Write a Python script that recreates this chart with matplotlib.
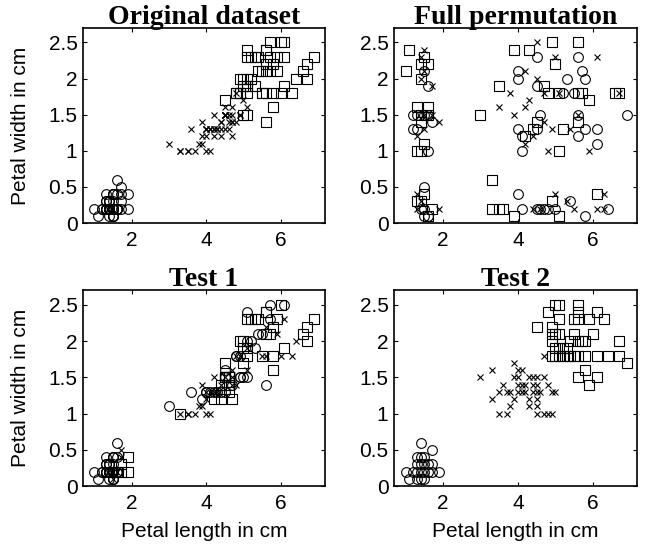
import matplotlib
matplotlib.use("Agg")
from matplotlib import pyplot as plt

# Fisher iris, petal length / width (cm), rows 1-150
petal_length = [
    1.4, 1.4, 1.3, 1.5, 1.4, 1.7, 1.4, 1.5, 1.4, 1.5,
    1.5, 1.6, 1.4, 1.1, 1.2, 1.5, 1.3, 1.4, 1.7, 1.5,
    1.7, 1.5, 1.0, 1.7, 1.9, 1.6, 1.6, 1.5, 1.4, 1.6,
    1.6, 1.5, 1.5, 1.4, 1.5, 1.2, 1.3, 1.5, 1.3, 1.5,
    1.3, 1.3, 1.3, 1.6, 1.9, 1.4, 1.6, 1.4, 1.5, 1.4,
    4.7, 4.5, 4.9, 4.0, 4.6, 4.5, 4.7, 3.3, 4.6, 3.9,
    3.5, 4.2, 4.0, 4.7, 3.6, 4.4, 4.5, 4.1, 4.5, 3.9,
    4.8, 4.0, 4.9, 4.7, 4.3, 4.4, 4.8, 5.0, 4.5, 3.5,
    3.8, 3.7, 3.9, 5.1, 4.5, 4.5, 4.7, 4.4, 4.1, 4.0,
    4.4, 4.6, 4.0, 3.3, 4.2, 4.2, 4.2, 4.3, 3.0, 4.1,
    6.0, 5.1, 5.9, 5.6, 5.8, 6.6, 4.5, 6.3, 5.8, 6.1,
    5.1, 5.3, 5.5, 5.0, 5.1, 5.3, 5.5, 6.7, 6.9, 5.0,
    5.7, 4.9, 6.7, 4.9, 5.7, 6.0, 4.8, 4.9, 5.6, 5.8,
    6.1, 6.4, 5.6, 5.1, 5.6, 6.1, 5.6, 5.5, 4.8, 5.4,
    5.6, 5.1, 5.1, 5.9, 5.7, 5.2, 5.0, 5.2, 5.4, 5.1,
]
petal_width = [
    0.2, 0.2, 0.2, 0.2, 0.2, 0.4, 0.3, 0.2, 0.2, 0.1,
    0.2, 0.2, 0.1, 0.1, 0.2, 0.4, 0.4, 0.3, 0.3, 0.3,
    0.2, 0.4, 0.2, 0.5, 0.2, 0.2, 0.4, 0.2, 0.2, 0.2,
    0.2, 0.4, 0.1, 0.2, 0.1, 0.2, 0.2, 0.1, 0.2, 0.2,
    0.3, 0.3, 0.2, 0.6, 0.4, 0.3, 0.2, 0.2, 0.2, 0.2,
    1.4, 1.5, 1.5, 1.3, 1.5, 1.3, 1.6, 1.0, 1.3, 1.4,
    1.0, 1.5, 1.0, 1.4, 1.3, 1.4, 1.5, 1.0, 1.5, 1.1,
    1.8, 1.3, 1.5, 1.2, 1.3, 1.4, 1.4, 1.7, 1.5, 1.0,
    1.1, 1.0, 1.2, 1.6, 1.5, 1.6, 1.5, 1.3, 1.3, 1.3,
    1.2, 1.4, 1.2, 1.0, 1.3, 1.2, 1.3, 1.3, 1.1, 1.3,
    2.5, 1.9, 2.1, 1.8, 2.2, 2.1, 1.7, 1.8, 1.8, 2.5,
    2.0, 1.9, 2.1, 2.0, 2.4, 2.3, 1.8, 2.2, 2.3, 1.5,
    2.3, 2.0, 2.0, 1.8, 2.1, 1.8, 1.8, 1.8, 2.1, 1.6,
    1.9, 2.0, 2.2, 1.5, 1.4, 2.3, 2.4, 1.8, 1.8, 2.1,
    2.4, 2.3, 1.9, 2.3, 2.5, 2.3, 1.9, 2.0, 2.3, 1.8,
]
# 0 = circle, 1 = cross, 2 = square
species = [0] * 50 + [1] * 50 + [2] * 50

test1_labels = [
    0, 0, 0, 0, 0, 1, 0, 0, 0, 0,
    0, 1, 0, 0, 0, 0, 0, 0, 2, 0,
    2, 0, 0, 1, 2, 2, 0, 0, 0, 0,
    0, 0, 0, 0, 0, 0, 0, 1, 0, 0,
    0, 0, 0, 0, 2, 0, 0, 0, 0, 0,
    1, 2, 0, 1, 2, 0, 1, 2, 2, 1,
    1, 1, 1, 0, 0, 2, 0, 1, 1, 1,
    0, 0, 0, 2, 0, 1, 1, 2, 2, 1,
    1, 1, 0, 1, 2, 0, 1, 0, 1, 0,
    2, 2, 1, 1, 0, 2, 1, 1, 0, 0,
    2, 1, 1, 1, 2, 2, 2, 1, 2, 0,
    0, 0, 0, 2, 0, 2, 2, 2, 2, 0,
    0, 2, 2, 0, 2, 1, 1, 1, 2, 2,
    2, 1, 1, 0, 0, 1, 2, 1, 0, 0,
    2, 2, 2, 2, 0, 2, 2, 0, 2, 2,
]

# full permutation panel, points read per marker
full_circle = [
    (1.5, 2.1), (1.6, 1.9), (1.2, 1.5), (1.3, 1.5), (1.5, 1.5), (1.6, 1.5),
    (1.7, 1.4), (1.2, 1.3), (1.3, 1.3), (1.6, 1.0), (1.5, 0.5), (1.4, 0.2),
    (1.5, 0.2), (1.5, 0.1), (1.6, 0.1),
    (4.5, 2.3), (5.6, 2.3), (4.0, 2.1), (4.0, 2.0), (5.3, 2.0), (5.7, 2.1),
    (5.8, 2.0), (4.5, 1.9), (5.2, 1.8), (5.5, 1.8), (4.6, 1.5), (5.6, 1.5),
    (6.9, 1.5), (4.0, 1.3), (4.5, 1.3), (5.8, 1.3), (6.1, 1.3), (4.1, 1.2),
    (5.6, 1.2), (6.1, 1.1), (4.1, 1.0), (4.0, 0.4), (5.4, 0.3), (4.1, 0.2),
    (4.5, 0.2), (4.6, 0.2), (4.7, 0.2), (4.8, 0.2), (5.0, 0.2), (5.8, 0.1),
    (6.4, 0.2),
]
full_cross = [
    (1.5, 2.4), (1.4, 2.3), (1.5, 2.1), (1.4, 2.0), (1.7, 1.9), (1.5, 1.5),
    (1.7, 1.5), (1.9, 1.4), (1.5, 1.3), (1.3, 1.2), (1.3, 0.4), (1.4, 0.3),
    (1.3, 0.2), (1.9, 0.2),
    (4.5, 2.5), (5.0, 2.3), (6.1, 2.3), (4.2, 2.1), (4.5, 2.0), (3.8, 1.8),
    (4.7, 1.8), (5.1, 1.8), (6.7, 1.8), (4.3, 1.7), (3.5, 1.6), (4.2, 1.6),
    (3.9, 1.5), (5.6, 1.5), (4.7, 1.4), (4.9, 1.3), (5.4, 1.3), (4.4, 1.2),
    (4.2, 1.1), (4.8, 1.0), (5.9, 1.0), (5.0, 0.4), (6.3, 0.4), (4.4, 0.2),
    (4.6, 0.2), (5.3, 0.3), (5.5, 0.2), (6.1, 0.2), (6.3, 0.2),
]
full_square = [
    (1.1, 2.4), (1.0, 2.1), (1.5, 2.3), (1.4, 2.2), (1.6, 2.2), (1.4, 2.0),
    (1.3, 1.6), (1.6, 1.6), (1.4, 1.5), (1.6, 1.5), (1.4, 1.4), (1.5, 1.1),
    (1.3, 1.0), (1.4, 1.0), (1.5, 0.4), (1.3, 0.3), (1.4, 0.3), (1.7, 0.2),
    (1.6, 0.1),
    (3.0, 1.5), (4.9, 2.5), (5.6, 2.5), (3.9, 2.4), (4.3, 2.4), (5.0, 2.2),
    (3.5, 1.9), (4.7, 1.9), (4.8, 1.8), (5.1, 1.8), (5.6, 1.8), (5.7, 1.8),
    (6.6, 1.8), (6.7, 1.8), (5.9, 1.7), (4.5, 1.4), (5.6, 1.4), (4.4, 1.3),
    (5.2, 1.3), (4.2, 1.2), (5.1, 1.0), (3.3, 0.6), (6.1, 0.4), (3.3, 0.2),
    (3.5, 0.2), (3.6, 0.2), (3.9, 0.1), (4.9, 0.3), (5.1, 0.1),
]

# test 2 panel
test2_circle = [
    (1.0, 0.2), (1.1, 0.1), (1.2, 0.2), (1.3, 0.1), (1.4, 0.1), (1.5, 0.1),
    (1.3, 0.2), (1.4, 0.2), (1.5, 0.2), (1.6, 0.2), (1.7, 0.2), (1.9, 0.2),
    (1.3, 0.3), (1.4, 0.3), (1.5, 0.3), (1.6, 0.3), (1.7, 0.3), (1.3, 0.4),
    (1.4, 0.4), (1.5, 0.4), (1.4, 0.6), (1.7, 0.5),
]
test2_cross = [
    (4.7, 1.8), (3.9, 1.7), (3.3, 1.6), (4.0, 1.6), (4.1, 1.6),
    (3.0, 1.5), (3.9, 1.5), (4.0, 1.5), (4.3, 1.5), (4.4, 1.5), (4.5, 1.5),
    (4.7, 1.5), (3.6, 1.4), (4.0, 1.4), (4.1, 1.4), (4.2, 1.4), (4.4, 1.4),
    (4.5, 1.4), (4.8, 1.4), (3.5, 1.3), (3.7, 1.3), (3.8, 1.3), (4.0, 1.3),
    (4.1, 1.3), (4.2, 1.3), (4.4, 1.3), (4.5, 1.3), (4.6, 1.3), (4.9, 1.3),
    (5.0, 1.3), (3.3, 1.2), (3.9, 1.2), (4.3, 1.2), (4.5, 1.2), (3.8, 1.1),
    (4.3, 1.1), (4.5, 1.1), (3.5, 1.0), (3.7, 1.0), (4.5, 1.0), (4.7, 1.0),
    (4.8, 1.0), (4.9, 1.0),
]
test2_square = [
    (5.0, 2.5), (5.1, 2.5), (5.6, 2.5), (4.8, 2.4), (5.6, 2.4), (6.1, 2.4),
    (5.1, 2.3), (5.5, 2.3), (5.6, 2.3), (5.9, 2.3), (6.3, 2.3), (4.5, 2.2),
    (4.9, 2.2), (4.9, 2.1), (5.0, 2.1), (5.1, 2.1), (5.5, 2.1), (6.0, 2.1),
    (4.9, 2.0), (5.4, 2.0), (5.6, 2.0), (5.7, 2.0), (5.8, 2.0), (6.7, 2.0),
    (5.0, 1.9), (5.1, 1.9), (5.2, 1.9), (5.3, 1.9), (4.9, 1.8), (5.0, 1.8),
    (5.1, 1.8), (5.2, 1.8), (5.3, 1.8), (5.4, 1.8), (5.5, 1.8), (5.6, 1.8),
    (5.8, 1.8), (6.1, 1.8), (6.4, 1.8), (6.7, 1.8), (6.9, 1.7), (5.8, 1.6),
    (5.6, 1.5), (6.1, 1.5), (5.9, 1.4),
]

MARKERS = {
    0: dict(marker='o', ms=7.0),
    1: dict(marker='x', ms=4.0),
    2: dict(marker='s', ms=6.5),
}


def draw(ax, xs, ys, kind):
    ax.plot(xs, ys, linestyle='none', mfc='none', mec='black', mew=0.8,
            **MARKERS[kind])


def draw_labelled(ax, labels):
    for kind in (0, 1, 2):
        xs = [x for x, k in zip(petal_length, labels) if k == kind]
        ys = [y for y, k in zip(petal_width, labels) if k == kind]
        draw(ax, xs, ys, kind)


def draw_pairs(ax, circles, crosses, squares):
    for kind, pts in ((0, circles), (1, crosses), (2, squares)):
        draw(ax, [p[0] for p in pts], [p[1] for p in pts], kind)


def style(ax, title, xlabel=False, ylabel=False):
    ax.set_xlim(0.69, 7.18)
    ax.set_ylim(0, 2.7)
    ax.set_xticks([2, 4, 6])
    ax.set_yticks([0, 0.5, 1, 1.5, 2, 2.5])
    ax.set_yticklabels(['0', '0.5', '1', '1.5', '2', '2.5'])
    ax.tick_params(direction='in', top=True, right=True, length=3, width=0.8,
                   labelsize=15)
    ax.tick_params(axis='x', pad=6)
    ax.tick_params(axis='y', pad=4)
    for lab in ax.get_xticklabels() + ax.get_yticklabels():
        lab.set_family('Liberation Sans')
    for s in ax.spines.values():
        s.set_linewidth(1.2)
    ax.set_title(title, family='Liberation Serif', fontweight='bold',
                 fontsize=20, pad=3)
    if xlabel:
        ax.set_xlabel('Petal length in cm', family='Liberation Sans',
                      fontsize=15, labelpad=6)
    if ylabel:
        ax.set_ylabel('Petal width in cm', family='Liberation Sans',
                      fontsize=15, labelpad=13)


fig = plt.figure(figsize=(6.48, 5.48), dpi=100)
ax1 = fig.add_axes([0.128, 0.593, 0.373, 0.356])
ax2 = fig.add_axes([0.608, 0.593, 0.375, 0.356])
ax3 = fig.add_axes([0.128, 0.113, 0.373, 0.357])
ax4 = fig.add_axes([0.608, 0.113, 0.375, 0.357])

draw_labelled(ax1, species)
style(ax1, 'Original dataset', ylabel=True)

draw_pairs(ax2, full_circle, full_cross, full_square)
style(ax2, 'Full permutation')

draw_labelled(ax3, test1_labels)
style(ax3, 'Test 1', xlabel=True, ylabel=True)

draw_pairs(ax4, test2_circle, test2_cross, test2_square)
style(ax4, 'Test 2', xlabel=True)

fig.savefig('out.png', dpi=100)
